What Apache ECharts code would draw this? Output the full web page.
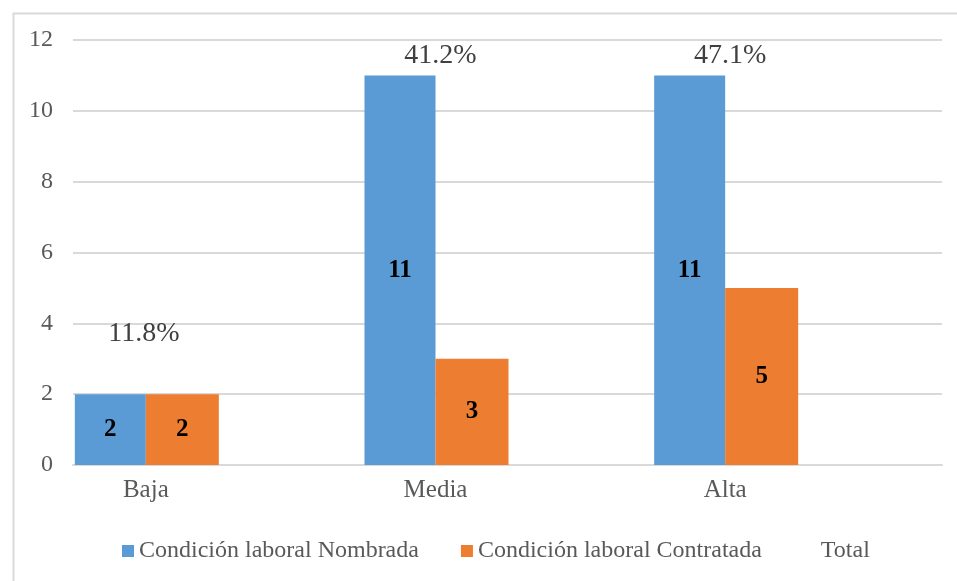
<!DOCTYPE html>
<html>
<head>
<meta charset="utf-8">
<script src="https://cdn.jsdelivr.net/npm/echarts@6/dist/echarts.min.js"></script>
<style>html,body{margin:0;padding:0;background:#fff}#main{width:957px;height:581px}</style>
</head>
<body>
<div id="main"></div>
<script>
var categories = ['Baja', 'Media', 'Alta'];
var nombrada = [2, 11, 11];
var contratada = [2, 3, 5];
var total = [4, 14, 16];
var totalLabels = ['11.8%', '41.2%', '47.1%'];
var seriesNames = ['Condición laboral Nombrada', 'Condición laboral Contratada', 'Total'];
var yTicks = { min: 0, max: 12, interval: 2 };

var FONT = '"Liberation Serif", "Times New Roman", serif';
var chart = echarts.init(document.getElementById('main'));

var totalData = total.map(function (v, i) {
  return {
    value: v,
    label: { formatter: totalLabels[i], offset: [i === 0 ? -146 : -139, i === 0 ? -6 : 0] }
  };
});

var innerLabel = { show: true, position: 'inside', color: '#000', fontFamily: FONT, fontWeight: 'bold', fontSize: 25 };

chart.setOption({
  animation: false,
  textStyle: { fontFamily: FONT },
  graphic: [{
    type: 'rect', left: 11, top: 11,
    shape: { width: 980, height: 600 },
    style: { fill: 'none', stroke: '#d9d9d9', lineWidth: 2 },
    silent: true
  }],
  grid: { left: 73, right: 15, top: 40, bottom: 116 },
  legend: {
    left: 117, top: 534,
    icon: 'rect',
    itemWidth: 12, itemHeight: 12, itemGap: 42,
    textStyle: { fontFamily: FONT, fontSize: 24, color: '#595959' },
    data: seriesNames
  },
  xAxis: {
    type: 'category',
    data: categories,
    axisLine: { lineStyle: { color: '#d9d9d9', width: 2 } },
    axisTick: { show: false },
    axisLabel: { color: '#595959', fontFamily: FONT, fontSize: 25, margin: 13, padding: [0, 144, 0, 0] }
  },
  yAxis: {
    type: 'value',
    min: yTicks.min, max: yTicks.max, interval: yTicks.interval,
    axisLine: { show: false },
    axisTick: { show: false },
    splitLine: { lineStyle: { color: '#d9d9d9', width: 2 } },
    axisLabel: { color: '#595959', fontFamily: FONT, fontSize: 24, margin: 20 }
  },
  series: [
    { name: seriesNames[0], type: 'bar', data: nombrada, barWidth: 71, barGap: '0%',
      itemStyle: { color: '#5B9BD5' }, label: innerLabel },
    { name: seriesNames[1], type: 'bar', data: contratada, barWidth: 73, barGap: '0%',
      itemStyle: { color: '#ED7D31' }, label: innerLabel },
    { name: seriesNames[2], type: 'bar', data: totalData, barWidth: 142, barGap: '0%',
      itemStyle: { color: 'rgba(0,0,0,0)' },
      label: { show: true, position: 'insideTop', distance: 2, color: '#404040', fontFamily: FONT, fontSize: 28 } }
  ]
});
</script>
</body>
</html>
